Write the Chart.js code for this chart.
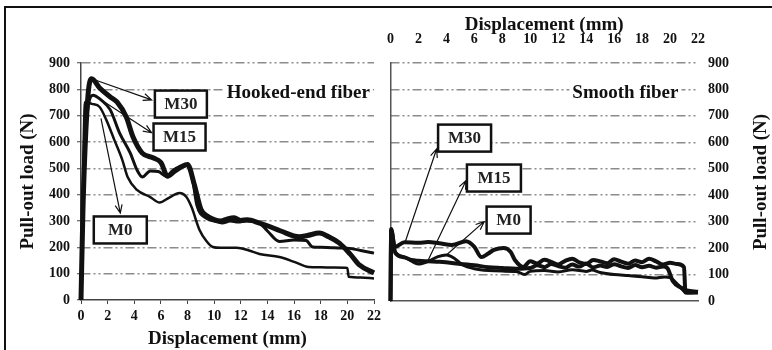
<!DOCTYPE html>
<html>
<head>
<meta charset="utf-8">
<script src="https://cdn.jsdelivr.net/npm/chart.js@4.4.1/dist/chart.umd.min.js"></script>
<style>
  html, body { margin: 0; padding: 0; background: #fff; }
  #wrap { position: relative; width: 772px; height: 350px; overflow: hidden; background: #fff; }
  #frame { position: absolute; left: 4px; top: 6px; width: 800px; height: 400px; border-left: 2px solid #111; border-top: 2px solid #111; }
  #hooked { position: absolute; left: 0; top: 0; }
  #smooth { position: absolute; left: 380px; top: 0; }
</style>
</head>
<body>
<div id="wrap">
  <div id="frame"></div>
  <canvas id="hooked" width="385" height="350" style="width:385px;height:350px"></canvas>
  <canvas id="smooth" width="392" height="350" style="width:392px;height:350px"></canvas>
</div>
<script>
// tick labels
const dispTicks = [0, 2, 4, 6, 8, 10, 12, 14, 16, 18, 20, 22];
const loadTicks = [0, 100, 200, 300, 400, 500, 600, 700, 800, 900];

// hooked-end fiber, displacement (mm) / pull-out load (N)
const hookedM30X = [0, 0.15, 0.5, 0.8, 1.4, 2.2, 2.7, 3.4, 3.9, 4.6, 5.4, 6.0, 6.5, 7.0, 7.5, 8.0, 8.5, 9.0, 9.5, 10.0, 10.5, 11.0, 11.5, 12.0, 12.5, 13.4, 14.0, 15.0, 16.4, 17.0, 17.9, 18.6, 19.4, 20.2, 20.9, 22.0];
const hookedM30Y = [0, 350, 760, 840, 805, 771, 752, 695, 620, 558, 540, 522, 470, 488, 505, 515, 440, 345, 318, 305, 300, 308, 312, 302, 305, 292, 282, 262, 240, 245, 254, 240, 216, 175, 133, 103];
const hookedM15X = [0, 0.15, 0.5, 0.9, 1.5, 2.2, 2.9, 3.7, 4.2, 4.6, 5.2, 5.8, 6.4, 6.9, 7.4, 8.0, 8.4, 8.7, 9.4, 10.0, 10.6, 11.2, 11.8, 12.4, 13.4, 14.0, 14.9, 16.0, 16.9, 17.4, 18.0, 19.0, 20.0, 21.0, 22.0];
const hookedM15Y = [0, 330, 720, 778, 760, 722, 634, 558, 494, 467, 490, 488, 470, 492, 505, 512, 450, 360, 311, 300, 292, 300, 296, 300, 292, 262, 222, 228, 226, 201, 200, 198, 197, 188, 178];
const hookedM0X = [0, 0.1, 0.3, 0.8, 1.4, 1.9, 2.5, 3.1, 3.5, 4.2, 5.2, 5.9, 6.6, 7.4, 7.9, 8.3, 8.9, 9.4, 9.9, 10.5, 11.7, 12.5, 13.4, 14.9, 16.0, 17.1, 18.0, 19.0, 20.0, 20.1, 21.0, 22.0];
const hookedM0Y = [0, 300, 752, 745, 733, 684, 608, 532, 467, 418, 391, 370, 388, 406, 392, 353, 266, 225, 201, 198, 198, 190, 175, 163, 145, 125, 124, 123, 122, 88, 85, 82];

// smooth fiber
const smoothM30X = [0, 0.05, 0.3, 1.0, 2.0, 2.7, 3.5, 4.4, 5.4, 6.0, 6.5, 7.0, 7.4, 8.1, 8.6, 8.9, 9.5, 10.0, 10.5, 11.0, 11.5, 12.0, 12.5, 13.0, 13.5, 14.0, 14.5, 15.0, 15.5, 16.0, 16.5, 17.0, 17.5, 18.0, 18.5, 19.0, 19.5, 20.0, 20.5, 21.0, 21.1, 22.0];
const smoothM30Y = [0, 272, 205, 222, 220, 223, 218, 212, 226, 205, 166, 180, 193, 200, 185, 155, 129, 150, 142, 156, 148, 138, 152, 160, 146, 140, 155, 150, 143, 158, 149, 141, 153, 147, 160, 150, 138, 145, 140, 128, 32, 32];
const smoothM15X = [0, 0.05, 0.35, 1.0, 1.5, 2.0, 2.7, 3.5, 4.4, 5.0, 6.0, 7.0, 8.0, 9.0, 10.0, 10.5, 11.0, 11.5, 12.0, 12.5, 13.0, 13.5, 14.0, 14.5, 15.0, 15.5, 16.0, 16.5, 17.0, 17.5, 18.0, 18.5, 19.0, 19.5, 19.8, 20.2, 20.8, 21.2, 22.0];
const smoothM15Y = [0, 268, 181, 165, 155, 152, 150, 148, 144, 140, 135, 128, 125, 122, 125, 135, 128, 140, 132, 126, 138, 130, 142, 127, 134, 129, 139, 131, 125, 136, 128, 133, 126, 130, 125, 75, 50, 40, 35];
const smoothM0X = [0, 0.05, 0.3, 1.0, 2.0, 2.7, 3.4, 4.0, 4.6, 5.2, 6.0, 7.0, 8.0, 9.0, 9.6, 10.0, 11.0, 12.0, 13.0, 14.0, 14.4, 15.0, 16.0, 17.0, 18.0, 18.9, 19.6, 20.0, 20.6, 21.2, 22.0];
const smoothM0Y = [0, 265, 190, 166, 140, 150, 168, 174, 160, 135, 122, 115, 113, 112, 100, 112, 115, 110, 118, 112, 117, 108, 100, 96, 92, 87, 91, 88, 60, 30, 32];

// callout boxes: box centre and arrow (from, to) in data units
const hookedCallouts = [
  { text: 'M30', x: 7.5, y: 744, w: 52, arrow: [0.8, 840, 5.3, 760] },
  { text: 'M15', x: 7.4, y: 619, w: 52, arrow: [1.5, 760, 5.3, 635] },
  { text: 'M0', x: 2.95, y: 266, w: 53, arrow: [1.5, 690, 2.95, 330] },
];
const smoothCallouts = [
  { text: 'M30', x: 5.3, y: 616, w: 53, arrow: [1.05, 223, 3.3, 575] },
  { text: 'M15', x: 7.4, y: 465, w: 54, arrow: [2.7, 155, 5.4, 455] },
  { text: 'M0', x: 8.45, y: 306, w: 44, arrow: [4.0, 174, 6.7, 300] },
];

const serif = '"Liberation Serif", "Times New Roman", serif';
Chart.defaults.font.family = serif;
Chart.defaults.font.weight = 'bold';
Chart.defaults.color = '#111';

const pts = (xs, ys) => xs.map((x, i) => ({ x: x, y: ys[i] }));

function line(label, xs, ys, width) {
  return {
    label: label,
    data: pts(xs, ys),
    borderColor: '#111',
    borderWidth: width,
    pointRadius: 0,
    cubicInterpolationMode: 'monotone',
    clip: false,
  };
}

const gridColor = ctx => (ctx.tick && ctx.tick.value === 0 ? 'rgba(0,0,0,0)' : '#8c8c8c');
const gridDash = [9, 3, 2, 3, 2, 3];

const callouts = {
  id: 'callouts',
  afterDatasetsDraw(chart, args, opts) {
    const ctx = chart.ctx;
    const xs = chart.scales[opts.xAxis];
    const ys = chart.scales[opts.yAxis];
    ctx.save();
    // panel caption
    if (opts.caption) {
      const c = opts.caption;
      ctx.font = 'bold 19px ' + serif;
      const w = ctx.measureText(c.text).width;
      let cx = xs.getPixelForValue(c.x);
      if (c.align === 'right') cx -= w;
      const cy = ys.getPixelForValue(c.y);
      ctx.fillStyle = '#fff';
      ctx.fillRect(cx - 3, cy - 11, w + 6, 22);
      ctx.fillStyle = '#111';
      ctx.textAlign = 'left';
      ctx.textBaseline = 'middle';
      ctx.fillText(c.text, cx, cy + 1);
    }
    (opts.items || []).forEach(item => {
      const a = item.arrow;
      const x1 = xs.getPixelForValue(a[0]), y1 = ys.getPixelForValue(a[1]);
      const x2 = xs.getPixelForValue(a[2]), y2 = ys.getPixelForValue(a[3]);
      const ang = Math.atan2(y2 - y1, x2 - x1);
      ctx.strokeStyle = '#111';
      ctx.lineWidth = 1.2;
      ctx.beginPath();
      ctx.moveTo(x1, y1);
      ctx.lineTo(x2, y2);
      ctx.moveTo(x2 - 9 * Math.cos(ang - 0.4), y2 - 9 * Math.sin(ang - 0.4));
      ctx.lineTo(x2, y2);
      ctx.lineTo(x2 - 9 * Math.cos(ang + 0.4), y2 - 9 * Math.sin(ang + 0.4));
      ctx.stroke();
    });
    (opts.items || []).forEach(item => {
      const cx = xs.getPixelForValue(item.x), cy = ys.getPixelForValue(item.y);
      const w = item.w, h = 27;
      ctx.fillStyle = '#fff';
      ctx.fillRect(cx - w / 2, cy - h / 2, w, h);
      ctx.strokeStyle = '#111';
      ctx.lineWidth = 2.5;
      ctx.strokeRect(cx - w / 2, cy - h / 2, w, h);
      ctx.fillStyle = '#222';
      ctx.font = 'bold 17px ' + serif;
      ctx.textAlign = 'center';
      ctx.textBaseline = 'middle';
      ctx.fillText(item.text, cx, cy + 1);
    });
    // right-hand axis title, reading bottom to top
    if (opts.rightTitle) {
      const area = chart.chartArea;
      ctx.translate(chart.width - 11, (area.top + area.bottom) / 2);
      ctx.rotate(-Math.PI / 2);
      ctx.font = 'bold 19px ' + serif;
      ctx.fillStyle = '#111';
      ctx.textAlign = 'center';
      ctx.textBaseline = 'middle';
      ctx.fillText(opts.rightTitle, 0, 0);
    }
    ctx.restore();
  },
};

new Chart(document.getElementById('hooked'), {
  type: 'line',
  data: {
    datasets: [
      line('M0', hookedM0X, hookedM0Y, 2.5),
      line('M15', hookedM15X, hookedM15Y, 3),
      line('M30', hookedM30X, hookedM30Y, 5),
    ],
  },
  options: {
    responsive: false,
    animation: false,
    layout: { padding: { left: 0, right: 10, top: 63, bottom: 0 } },
    plugins: {
      legend: { display: false },
      tooltip: { enabled: false },
      callouts: {
        xAxis: 'x',
        yAxis: 'y',
        items: hookedCallouts,
        caption: { text: 'Hooked-end fiber', x: 10.95, y: 790, align: 'left' },
      },
    },
    scales: {
      x: {
        type: 'linear',
        position: 'bottom',
        min: 0,
        max: 22,
        afterBuildTicks: s => { s.ticks = dispTicks.map(v => ({ value: v })); },
        afterFit: s => { s.height = 50; },
        ticks: { font: { size: 14 }, padding: 4, maxRotation: 0 },
        grid: { drawOnChartArea: false, drawTicks: true, tickLength: 4, tickColor: '#444', tickWidth: 1 },
        border: { display: true, color: '#444', width: 1.5 },
        title: { display: true, text: 'Displacement (mm)', font: { size: 19 }, padding: { top: 0, bottom: 0 } },
      },
      y: {
        type: 'linear',
        position: 'left',
        min: 0,
        max: 900,
        afterBuildTicks: s => { s.ticks = loadTicks.map(v => ({ value: v })); },
        afterFit: s => { s.width = 81; },
        ticks: { font: { size: 14 }, padding: 7 },
        grid: { color: gridColor, lineWidth: 1.5, drawTicks: true, tickLength: 4, tickColor: '#444', tickWidth: 1 },
        border: { display: true, color: '#444', width: 1.5, dash: gridDash },
        title: { display: true, text: 'Pull-out load (N)', font: { size: 19 }, padding: { top: 17, bottom: 0 } },
      },
    },
  },
  plugins: [callouts],
});

new Chart(document.getElementById('smooth'), {
  type: 'line',
  data: {
    datasets: [
      line('M0', smoothM0X, smoothM0Y, 3),
      line('M15', smoothM15X, smoothM15Y, 4),
      line('M30', smoothM30X, smoothM30Y, 4),
    ],
  },
  options: {
    responsive: false,
    animation: false,
    layout: { padding: { left: 5, right: 0, top: 0, bottom: 49 } },
    plugins: {
      legend: { display: false },
      tooltip: { enabled: false },
      callouts: {
        xAxis: 'x',
        yAxis: 'y',
        items: smoothCallouts,
        caption: { text: 'Smooth fiber', x: 20.6, y: 790, align: 'right' },
        rightTitle: 'Pull-out load (N)',
      },
    },
    scales: {
      x: {
        type: 'linear',
        position: 'top',
        min: 0,
        max: 22,
        afterBuildTicks: s => { s.ticks = dispTicks.map(v => ({ value: v })); },
        afterFit: s => { s.height = 63; },
        ticks: { font: { size: 14 }, padding: 7, maxRotation: 0 },
        grid: { display: false },
        border: { display: false },
        title: { display: true, text: 'Displacement (mm)', font: { size: 19 }, padding: { top: 14, bottom: 0 } },
      },
      xb: {
        type: 'linear',
        position: 'bottom',
        min: 0,
        max: 22,
        afterFit: s => { s.height = 0; },
        ticks: { display: false },
        grid: { display: false },
        border: { display: true, color: '#555', width: 1.5 },
      },
      y: {
        type: 'linear',
        position: 'right',
        min: 0,
        max: 900,
        afterBuildTicks: s => { s.ticks = loadTicks.map(v => ({ value: v })); },
        afterFit: s => { s.width = 74; },
        ticks: { font: { size: 14 }, padding: 10 },
        grid: { color: gridColor, lineWidth: 1.5, drawTicks: false },
        border: { display: false, dash: gridDash },
      },
      yl: {
        type: 'linear',
        position: 'left',
        min: 0,
        max: 900,
        afterFit: s => { s.width = 0; },
        ticks: { display: false },
        grid: { display: false },
        border: { display: true, color: '#555', width: 1.5 },
      },
    },
  },
  plugins: [callouts],
});
</script>
</body>
</html>
